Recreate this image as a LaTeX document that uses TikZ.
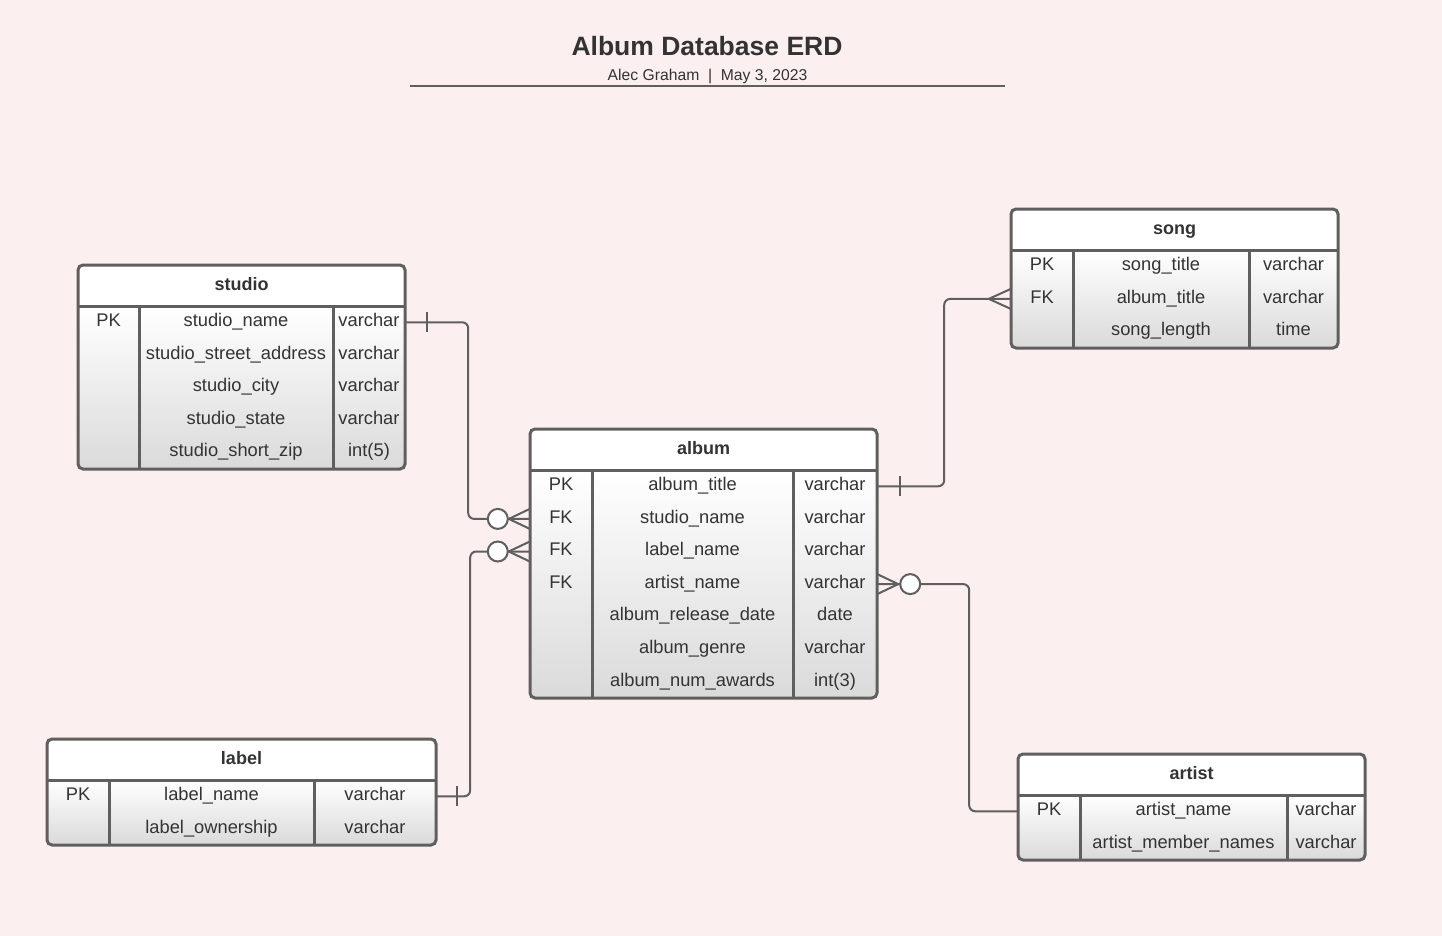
\documentclass[tikz,border=0pt]{standalone}
\usepackage{fontspec}
\setmainfont{Liberation Sans}
\definecolor{bgpink}{HTML}{FCEFEF}
\definecolor{ink}{HTML}{333333}
\definecolor{linegray}{HTML}{5F5F5F}
\definecolor{shadebot}{HTML}{DADADA}
\begin{document}
\begin{tikzpicture}[x=1pt,y=-1pt,
  frame/.style={draw=linegray,line width=3pt},
  conn/.style={draw=linegray,line width=2pt,rounded corners=6pt},
  foot/.style={draw=linegray,line width=2pt},
  head/.style={font=\fontsize{18}{20}\selectfont\bfseries,text=ink,inner sep=0pt,
    text height=13pt,text depth=4pt},
  cell/.style={font=\fontsize{18.3}{20}\selectfont,text=ink,inner sep=0pt,
    minimum height=32.6pt,text height=12pt,text depth=3.5pt}]
   \fill [bgpink] (0,0) rectangle (1442,936);
   \useasboundingbox (0,0) rectangle (1442,936);
   \node [font=\fontsize{26.5}{30}\selectfont\bfseries,text=ink] (title) at (707,46) {Album Database ERD};
   \node [font=\fontsize{15.7}{18}\selectfont,text=ink] (byline) at (707.5,76.5) {Alec Graham\ \ |\ \ May 3, 2023};
   \draw [linegray,line width=2pt] (410,86) -- (1005,86);
   \foreach \n/\xa/\xb/\xc/\xd/\ya/\yb in {studio/78/139/333/405/265/469,album/530/592/793/877/429/698,song/1011/1073/1249/1338/209/348,label/47/109/314/436/739/845,artist/1018/1080/1287/1365/754/860}{
     \fill [white,rounded corners=5pt] (\xa,\ya) rectangle (\xd,\yb);
     \begin{scope}
       \clip [rounded corners=5pt] (\xa,\ya) rectangle (\xd,\yb);
       \shade [top color=white,bottom color=shadebot] (\xa,\ya+41) rectangle (\xd,\yb);
     \end{scope}
     \node [head] (\n) at ({(\xa+\xd)/2},\ya+20.5) {\n};
     \draw [frame] (\xa,\ya+41) -- (\xd,\ya+41) (\xb,\ya+41) -- (\xb,\yb) (\xc,\ya+41) -- (\xc,\yb);
     \draw [frame,rounded corners=5pt] (\xa,\ya) rectangle (\xd,\yb);
   }
   \foreach \k/\f/\t [count=\i] in {PK/studio\_name/varchar,/studio\_street\_address/varchar,/studio\_city/varchar,/studio\_state/varchar,/studio\_short\_zip/int(5)}{
     \node [cell,minimum width=61pt] (studio-k\i) at (108.5,289.7+32.6*\i) {\k};
     \node [cell,minimum width=194pt] (studio-f\i) at (236,289.7+32.6*\i) {\f};
     \node [cell,minimum width=72pt] (studio-t\i) at (369,289.7+32.6*\i) {\t};
   }
   \foreach \k/\f/\t [count=\i] in {PK/album\_title/varchar,FK/studio\_name/varchar,FK/label\_name/varchar,FK/artist\_name/varchar,/album\_release\_date/date,/album\_genre/varchar,/album\_num\_awards/int(3)}{
     \node [cell,minimum width=62pt] (album-k\i) at (561,453.7+32.6*\i) {\k};
     \node [cell,minimum width=201pt] (album-f\i) at (692.5,453.7+32.6*\i) {\f};
     \node [cell,minimum width=84pt] (album-t\i) at (835,453.7+32.6*\i) {\t};
   }
   \foreach \k/\f/\t [count=\i] in {PK/song\_title/varchar,FK/album\_title/varchar,/song\_length/time}{
     \node [cell,minimum width=62pt] (song-k\i) at (1042,233.7+32.6*\i) {\k};
     \node [cell,minimum width=176pt] (song-f\i) at (1161,233.7+32.6*\i) {\f};
     \node [cell,minimum width=89pt] (song-t\i) at (1293.5,233.7+32.6*\i) {\t};
   }
   \foreach \k/\f/\t [count=\i] in {PK/label\_name/varchar,/label\_ownership/varchar}{
     \node [cell,minimum width=62pt] (label-k\i) at (78,763.7+32.6*\i) {\k};
     \node [cell,minimum width=205pt] (label-f\i) at (211.5,763.7+32.6*\i) {\f};
     \node [cell,minimum width=122pt] (label-t\i) at (375,763.7+32.6*\i) {\t};
   }
   \foreach \k/\f/\t [count=\i] in {PK/artist\_name/varchar,/artist\_member\_names/varchar}{
     \node [cell,minimum width=62pt] (artist-k\i) at (1049,778.7+32.6*\i) {\k};
     \node [cell,minimum width=207pt] (artist-f\i) at (1183.5,778.7+32.6*\i) {\f};
     \node [cell,minimum width=78pt] (artist-t\i) at (1326,778.7+32.6*\i) {\t};
   }
   \draw [conn] (studio-t1.east) -- ++(63,0) |- (album-k2.west);
   \draw [conn] (label-t1.east) -- ++(34,0) |- (album-k3.west);
   \draw [conn] (album-t1.east) -- ++(67,0) |- (song-k2.west);
   \draw [conn] (album-t4.east) -- ++(92,0) |- (artist-k1.west);
   \draw [foot] ([xshift=22pt,yshift=10pt]studio-t1.east) -- ([xshift=22pt,yshift=-10pt]studio-t1.east);
   \draw [foot] ([xshift=21pt,yshift=10pt]label-t1.east) -- ([xshift=21pt,yshift=-10pt]label-t1.east);
   \draw [foot] ([xshift=23pt,yshift=10pt]album-t1.east) -- ([xshift=23pt,yshift=-10pt]album-t1.east);
   \draw [foot] ([yshift=10pt]album-k2.west) -- ([xshift=-21pt]album-k2.west) -- ([yshift=-10pt]album-k2.west);
   \draw [foot] ([yshift=10pt]album-k3.west) -- ([xshift=-21pt]album-k3.west) -- ([yshift=-10pt]album-k3.west);
   \draw [foot] ([yshift=10pt]song-k2.west) -- ([xshift=-22pt]song-k2.west) -- ([yshift=-10pt]song-k2.west);
   \draw [foot] ([yshift=10pt]album-t4.east) -- ([xshift=21pt]album-t4.east) -- ([yshift=-10pt]album-t4.east);
   \draw [foot,fill=white] ([xshift=-32pt]album-k2.west) circle (10pt);
   \draw [foot,fill=white] ([xshift=-32pt]album-k3.west) circle (10pt);
   \draw [foot,fill=white] ([xshift=33pt]album-t4.east) circle (10pt);
  \end{tikzpicture}
\end{document}
